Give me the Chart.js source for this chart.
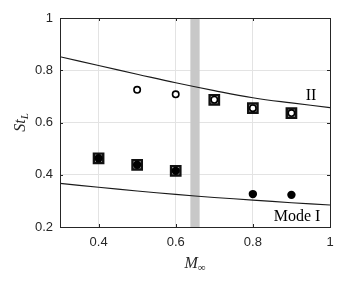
<!DOCTYPE html>
<html>
<head>
<meta charset="utf-8">
<script src="https://cdn.jsdelivr.net/npm/chart.js@4.4.1/dist/chart.umd.min.js"></script>
<style>
  html, body { margin: 0; padding: 0; background: #fff; }
  #wrap { width: 346px; height: 283px; }
</style>
</head>
<body>
<div id="wrap"><canvas id="chart" width="346" height="283"></canvas></div>
<script>
// fitted curves (mode II above, mode I below)
let curveX = [0.3, 0.4, 0.5, 0.6, 0.7, 0.8, 0.9, 1.0];
let modeII = [0.852, 0.818, 0.785, 0.752, 0.722, 0.695, 0.675, 0.657];
let modeI = [0.367, 0.352, 0.338, 0.325, 0.313, 0.303, 0.293, 0.284];

// measured peaks
let openX = [0.5, 0.6, 0.7, 0.8, 0.9];
let openY = [0.725, 0.708, 0.687, 0.655, 0.636];
let filledX = [0.4, 0.5, 0.6, 0.8, 0.9];
let filledY = [0.463, 0.438, 0.415, 0.326, 0.323];
let squareX = [0.4, 0.5, 0.6, 0.7, 0.8, 0.9];
let squareY = [0.463, 0.438, 0.415, 0.687, 0.655, 0.636];

// shaded Mach band
let bandX = [0.638, 0.662];

let xTicks = [0.4, 0.6, 0.8, 1];
let yTicks = [0.2, 0.4, 0.6, 0.8, 1];

function pts(xs, ys) {
    return xs.map((x, i) => ({ x: x, y: ys[i] }));
}

const tickFont = { family: "'Liberation Sans', Arial, sans-serif", size: 13 };
const axisColor = "#262626";

const decorPlugin = {
    id: "decor",
    beforeDatasetsDraw(chart) {
        const ctx = chart.ctx;
        const a = chart.chartArea;
        const xs = chart.scales.x;
        let x0 = xs.getPixelForValue(bandX[0]);
        let x1 = xs.getPixelForValue(bandX[1]);
        ctx.save();
        ctx.fillStyle = "#c8c8c8";
        ctx.fillRect(x0, a.top, x1 - x0, a.bottom - a.top);
        ctx.restore();
    },
    afterDraw(chart) {
        const ctx = chart.ctx;
        const a = chart.chartArea;
        const xs = chart.scales.x, ys = chart.scales.y;
        ctx.save();
        ctx.strokeStyle = axisColor;
        ctx.lineWidth = 1;
        ctx.strokeRect(Math.round(a.left) + 0.5, Math.round(a.top) + 0.5,
            Math.round(a.right - a.left), Math.round(a.bottom - a.top));
        // inward ticks
        ctx.beginPath();
        xTicks.forEach(v => {
            let px = Math.round(xs.getPixelForValue(v)) + 0.5;
            ctx.moveTo(px, a.bottom); ctx.lineTo(px, a.bottom - 3);
            ctx.moveTo(px, a.top); ctx.lineTo(px, a.top + 3);
        });
        yTicks.forEach(v => {
            let py = Math.round(ys.getPixelForValue(v)) + 0.5;
            ctx.moveTo(a.left, py); ctx.lineTo(a.left + 3, py);
            ctx.moveTo(a.right, py); ctx.lineTo(a.right - 3, py);
        });
        ctx.stroke();

        // curve labels
        ctx.fillStyle = "#000";
        ctx.font = "16px 'Liberation Serif', 'Times New Roman', serif";
        ctx.textBaseline = "middle";
        ctx.textAlign = "center";
        ctx.fillText("II", xs.getPixelForValue(0.951), ys.getPixelForValue(0.702));
        ctx.textAlign = "right";
        ctx.fillText("Mode I", xs.getPixelForValue(0.975), ys.getPixelForValue(0.24));

        // x axis title  M_inf
        ctx.fillStyle = "#262626";
        let cx = (a.left + a.right) / 2;
        ctx.textAlign = "left";
        ctx.textBaseline = "alphabetic";
        ctx.font = "italic 16px 'Liberation Serif', 'Times New Roman', serif";
        let mW = ctx.measureText("M").width;
        ctx.font = "11px 'Liberation Serif', 'Times New Roman', serif";
        let iW = ctx.measureText("\u221e").width;
        let sx = cx - (mW + iW) / 2;
        ctx.font = "italic 16px 'Liberation Serif', 'Times New Roman', serif";
        ctx.fillText("M", sx, 268);
        ctx.font = "11px 'Liberation Serif', 'Times New Roman', serif";
        ctx.fillText("\u221e", sx + mW, 271);

        // y axis title  St_L
        ctx.translate(20, (a.top + a.bottom) / 2);
        ctx.rotate(-Math.PI / 2);
        ctx.font = "italic 16px 'Liberation Serif', 'Times New Roman', serif";
        let sW = ctx.measureText("St").width;
        ctx.font = "italic 11px 'Liberation Serif', 'Times New Roman', serif";
        let lW = ctx.measureText("L").width;
        let tx = -(sW + lW) / 2;
        ctx.font = "italic 16px 'Liberation Serif', 'Times New Roman', serif";
        ctx.fillText("St", tx, 5);
        ctx.font = "italic 11px 'Liberation Serif', 'Times New Roman', serif";
        ctx.fillText("L", tx + sW, 8);
        ctx.restore();
    }
};

new Chart(document.getElementById("chart"), {
    type: "scatter",
    data: {
        datasets: [
            {
                data: pts(openX, openY),
                pointStyle: "circle",
                pointRadius: 3.2,
                pointBorderWidth: 1.6,
                pointBackgroundColor: "#fff",
                pointBorderColor: "#000",
                order: 0
            },
            {
                data: pts(filledX, filledY),
                pointStyle: "circle",
                pointRadius: 4.2,
                pointBorderWidth: 0,
                pointBackgroundColor: "#000",
                pointBorderColor: "#000",
                order: 0
            },
            {
                data: pts(squareX, squareY),
                pointStyle: "rect",
                pointRadius: 6.6,
                pointBorderWidth: 2.4,
                pointBackgroundColor: "#fff",
                pointBorderColor: "#111",
                order: 1
            },
            {
                data: pts(curveX, modeII),
                showLine: true,
                tension: 0.4,
                pointRadius: 0,
                borderColor: "#1a1a1a",
                borderWidth: 1.1,
                order: 2
            },
            {
                data: pts(curveX, modeI),
                showLine: true,
                tension: 0.4,
                pointRadius: 0,
                borderColor: "#1a1a1a",
                borderWidth: 1.1,
                order: 2
            }
        ]
    },
    options: {
        responsive: false,
        animation: false,
        layout: { padding: { top: 18, right: 16, left: 0, bottom: 0 } },
        plugins: { legend: { display: false }, tooltip: { enabled: false } },
        scales: {
            x: {
                type: "linear",
                min: 0.3,
                max: 1,
                afterBuildTicks: s => { s.ticks = xTicks.map(v => ({ value: v })); },
                afterFit: s => { s.height = 56; },
                ticks: {
                    font: tickFont,
                    color: axisColor,
                    padding: 8,
                    maxRotation: 0,
                    callback: v => String(v)
                },
                grid: { color: "#e3e3e3", drawTicks: false },
                border: { display: false }
            },
            y: {
                min: 0.2,
                max: 1,
                afterBuildTicks: s => { s.ticks = yTicks.map(v => ({ value: v })); },
                afterFit: s => { s.width = 60; },
                ticks: {
                    font: tickFont,
                    color: axisColor,
                    padding: 7,
                    callback: v => String(v)
                },
                grid: { color: "#e3e3e3", drawTicks: false },
                border: { display: false }
            }
        }
    },
    plugins: [decorPlugin]
});
</script>
</body>
</html>
